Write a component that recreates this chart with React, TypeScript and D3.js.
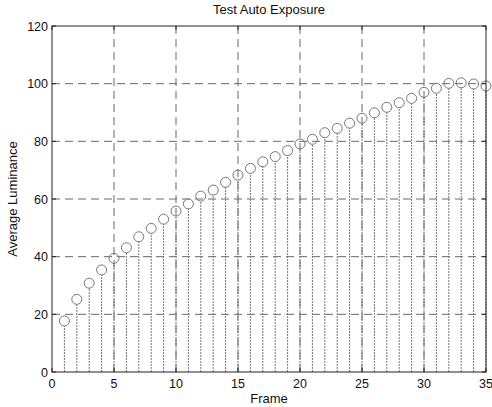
import * as d3 from "d3";
import React from "react";

const frames = [1, 2, 3, 4, 5, 6, 7, 8, 9, 10, 11, 12, 13, 14, 15, 16, 17, 18, 19, 20, 21, 22, 23, 24, 25, 26, 27, 28, 29, 30, 31, 32, 33, 34, 35];
const luminance = [17.7, 25.2, 30.8, 35.4, 39.4, 43.1, 46.9, 49.8, 53, 55.8, 58.3, 61, 63.1, 65.8, 68.3, 70.6, 72.9, 74.7, 76.8, 79.1, 80.7, 83, 84.5, 86.3, 88, 89.9, 91.8, 93.4, 94.9, 97, 98.4, 100.1, 100.3, 99.9, 99.2];
const xTicks = [0, 5, 10, 15, 20, 25, 30, 35];
const yTicks = [0, 20, 40, 60, 80, 100, 120];

const W = 492;
const H = 407;
const margin = { top: 26, right: 6, bottom: 35, left: 52 };

export default function App() {
  const x = d3.scaleLinear().domain([0, 35]).range([margin.left, W - margin.right]);
  const y = d3.scaleLinear().domain([0, 120]).range([H - margin.bottom, margin.top]);
  const font = "'Liberation Sans', Arial, sans-serif";

  return (
    <svg width={W} height={H} style={{ position: "absolute", left: 0, top: 0, background: "#fff" }}>
      {/* grid */}
      <g stroke="#444" strokeWidth={1} strokeDasharray="8,5" opacity={0.8}>
        {xTicks.slice(1, -1).map(t => (
          <line key={"gx" + t} x1={x(t)} x2={x(t)} y1={y(0)} y2={y(120)} />
        ))}
        {yTicks.slice(1, -1).map(t => (
          <line key={"gy" + t} x1={x(0)} x2={x(35)} y1={y(t)} y2={y(t)} />
        ))}
      </g>

      {/* stems */}
      <g stroke="#777" strokeWidth={1} strokeDasharray="2,1">
        {frames.map((f, i) => (
          <line key={"s" + f} x1={x(f)} x2={x(f)} y1={y(0)} y2={y(luminance[i]) + 5} />
        ))}
      </g>
      <g fill="none" stroke="#777" strokeWidth={1}>
        {frames.map((f, i) => (
          <circle key={"c" + f} cx={x(f)} cy={y(luminance[i])} r={5} />
        ))}
      </g>

      {/* box */}
      <rect x={x(0)} y={y(120)} width={x(35) - x(0)} height={y(0) - y(120)} fill="none" stroke="#222" strokeWidth={1} />

      {/* ticks */}
      <g stroke="#222">
        {xTicks.map(t => (
          <g key={"tx" + t}>
            <line x1={x(t)} x2={x(t)} y1={y(0)} y2={y(0) - 4} />
            <line x1={x(t)} x2={x(t)} y1={y(120)} y2={y(120) + 4} />
          </g>
        ))}
        {yTicks.map(t => (
          <g key={"ty" + t}>
            <line x1={x(0)} x2={x(0) + 4} y1={y(t)} y2={y(t)} />
            <line x1={x(35)} x2={x(35) - 4} y1={y(t)} y2={y(t)} />
          </g>
        ))}
      </g>

      <g fontFamily={font} fill="#111">
        <g fontSize={12.5}>
          {xTicks.map(t => (
            <text key={"lx" + t} x={x(t)} y={y(0) + 16} textAnchor="middle">{t}</text>
          ))}
          {yTicks.map(t => (
            <text key={"ly" + t} x={x(0) - 4} y={y(t) + 4.5} textAnchor="end">{t}</text>
          ))}
        </g>
        <g fontSize={13}>
          <text x={(x(0) + x(35)) / 2} y={14} textAnchor="middle">Test Auto Exposure</text>
          <text x={(x(0) + x(35)) / 2} y={y(0) + 31} textAnchor="middle">Frame</text>
          <text transform={`translate(17,${(y(0) + y(120)) / 2}) rotate(-90)`} textAnchor="middle">Average Luminance</text>
        </g>
      </g>
    </svg>
  );
}
